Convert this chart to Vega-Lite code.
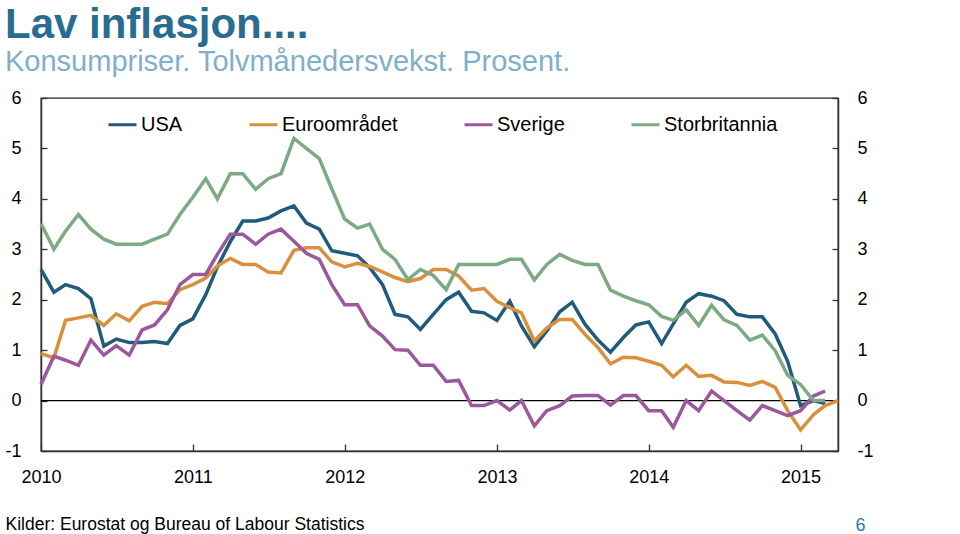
{
  "$schema": "https://vega.github.io/schema/vega-lite/v6.json",
  "width": 797,
  "height": 353,
  "autosize": "none",
  "padding": {"left": 41, "top": 98, "right": 122, "bottom": 83},
  "background": "white",
  "config": {
    "font": "Liberation Sans",
    "view": {"stroke": "#222222", "strokeWidth": 1.3},
    "axis": {"grid": false, "domainColor": "#333333", "domainWidth": 1.5, "tickColor": "#333333", "tickWidth": 1.3, "labelColor": "#000000", "labelFont": "Liberation Sans"}
  },
  "title": {
    "text": "Lav inflasjon....",
    "subtitle": "Konsumpriser. Tolvmånedersvekst. Prosent.",
    "anchor": "start",
    "frame": "group",
    "dx": -36,
    "offset": 11,
    "font": "Liberation Sans",
    "fontSize": 42,
    "fontWeight": "bold",
    "color": "#2A6C90",
    "subtitleFont": "Liberation Sans",
    "subtitleFontSize": 29,
    "subtitleColor": "#7EB0CA",
    "subtitlePadding": 1
  },
  "data": {
    "values": [
      {"maaned":"2010-01","serie":"USA","verdi":2.6},{"maaned":"2010-02","serie":"USA","verdi":2.15},{"maaned":"2010-03","serie":"USA","verdi":2.3},{"maaned":"2010-04","serie":"USA","verdi":2.22},{"maaned":"2010-05","serie":"USA","verdi":2.02},{"maaned":"2010-06","serie":"USA","verdi":1.08},{"maaned":"2010-07","serie":"USA","verdi":1.22},{"maaned":"2010-08","serie":"USA","verdi":1.15},{"maaned":"2010-09","serie":"USA","verdi":1.15},{"maaned":"2010-10","serie":"USA","verdi":1.17},{"maaned":"2010-11","serie":"USA","verdi":1.13},{"maaned":"2010-12","serie":"USA","verdi":1.49},
      {"maaned":"2011-01","serie":"USA","verdi":1.62},{"maaned":"2011-02","serie":"USA","verdi":2.1},{"maaned":"2011-03","serie":"USA","verdi":2.65},{"maaned":"2011-04","serie":"USA","verdi":3.15},{"maaned":"2011-05","serie":"USA","verdi":3.56},{"maaned":"2011-06","serie":"USA","verdi":3.56},{"maaned":"2011-07","serie":"USA","verdi":3.62},{"maaned":"2011-08","serie":"USA","verdi":3.76},{"maaned":"2011-09","serie":"USA","verdi":3.86},{"maaned":"2011-10","serie":"USA","verdi":3.52},{"maaned":"2011-11","serie":"USA","verdi":3.4},{"maaned":"2011-12","serie":"USA","verdi":2.97},
      {"maaned":"2012-01","serie":"USA","verdi":2.92},{"maaned":"2012-02","serie":"USA","verdi":2.87},{"maaned":"2012-03","serie":"USA","verdi":2.64},{"maaned":"2012-04","serie":"USA","verdi":2.3},{"maaned":"2012-05","serie":"USA","verdi":1.71},{"maaned":"2012-06","serie":"USA","verdi":1.66},{"maaned":"2012-07","serie":"USA","verdi":1.41},{"maaned":"2012-08","serie":"USA","verdi":1.71},{"maaned":"2012-09","serie":"USA","verdi":2.0},{"maaned":"2012-10","serie":"USA","verdi":2.15},{"maaned":"2012-11","serie":"USA","verdi":1.77},{"maaned":"2012-12","serie":"USA","verdi":1.74},
      {"maaned":"2013-01","serie":"USA","verdi":1.59},{"maaned":"2013-02","serie":"USA","verdi":1.97},{"maaned":"2013-03","serie":"USA","verdi":1.48},{"maaned":"2013-04","serie":"USA","verdi":1.07},{"maaned":"2013-05","serie":"USA","verdi":1.38},{"maaned":"2013-06","serie":"USA","verdi":1.76},{"maaned":"2013-07","serie":"USA","verdi":1.95},{"maaned":"2013-08","serie":"USA","verdi":1.51},{"maaned":"2013-09","serie":"USA","verdi":1.2},{"maaned":"2013-10","serie":"USA","verdi":0.96},{"maaned":"2013-11","serie":"USA","verdi":1.25},{"maaned":"2013-12","serie":"USA","verdi":1.5},
      {"maaned":"2014-01","serie":"USA","verdi":1.56},{"maaned":"2014-02","serie":"USA","verdi":1.13},{"maaned":"2014-03","serie":"USA","verdi":1.52},{"maaned":"2014-04","serie":"USA","verdi":1.95},{"maaned":"2014-05","serie":"USA","verdi":2.12},{"maaned":"2014-06","serie":"USA","verdi":2.07},{"maaned":"2014-07","serie":"USA","verdi":1.98},{"maaned":"2014-08","serie":"USA","verdi":1.71},{"maaned":"2014-09","serie":"USA","verdi":1.66},{"maaned":"2014-10","serie":"USA","verdi":1.66},{"maaned":"2014-11","serie":"USA","verdi":1.32},{"maaned":"2014-12","serie":"USA","verdi":0.78},
      {"maaned":"2015-01","serie":"USA","verdi":-0.1},{"maaned":"2015-02","serie":"USA","verdi":0.0},{"maaned":"2015-03","serie":"USA","verdi":-0.06},

      {"maaned":"2010-01","serie":"Euroområdet","verdi":0.93},{"maaned":"2010-02","serie":"Euroområdet","verdi":0.85},{"maaned":"2010-03","serie":"Euroområdet","verdi":1.59},{"maaned":"2010-04","serie":"Euroområdet","verdi":1.64},{"maaned":"2010-05","serie":"Euroområdet","verdi":1.69},{"maaned":"2010-06","serie":"Euroområdet","verdi":1.49},{"maaned":"2010-07","serie":"Euroområdet","verdi":1.72},{"maaned":"2010-08","serie":"Euroområdet","verdi":1.58},{"maaned":"2010-09","serie":"Euroområdet","verdi":1.87},{"maaned":"2010-10","serie":"Euroområdet","verdi":1.95},{"maaned":"2010-11","serie":"Euroområdet","verdi":1.92},{"maaned":"2010-12","serie":"Euroområdet","verdi":2.2},
      {"maaned":"2011-01","serie":"Euroområdet","verdi":2.3},{"maaned":"2011-02","serie":"Euroområdet","verdi":2.43},{"maaned":"2011-03","serie":"Euroområdet","verdi":2.67},{"maaned":"2011-04","serie":"Euroområdet","verdi":2.82},{"maaned":"2011-05","serie":"Euroområdet","verdi":2.7},{"maaned":"2011-06","serie":"Euroområdet","verdi":2.7},{"maaned":"2011-07","serie":"Euroområdet","verdi":2.55},{"maaned":"2011-08","serie":"Euroområdet","verdi":2.53},{"maaned":"2011-09","serie":"Euroområdet","verdi":2.98},{"maaned":"2011-10","serie":"Euroområdet","verdi":3.03},{"maaned":"2011-11","serie":"Euroområdet","verdi":3.03},{"maaned":"2011-12","serie":"Euroområdet","verdi":2.75},
      {"maaned":"2012-01","serie":"Euroområdet","verdi":2.65},{"maaned":"2012-02","serie":"Euroområdet","verdi":2.72},{"maaned":"2012-03","serie":"Euroområdet","verdi":2.66},{"maaned":"2012-04","serie":"Euroområdet","verdi":2.55},{"maaned":"2012-05","serie":"Euroområdet","verdi":2.44},{"maaned":"2012-06","serie":"Euroområdet","verdi":2.36},{"maaned":"2012-07","serie":"Euroområdet","verdi":2.42},{"maaned":"2012-08","serie":"Euroområdet","verdi":2.6},{"maaned":"2012-09","serie":"Euroområdet","verdi":2.6},{"maaned":"2012-10","serie":"Euroområdet","verdi":2.47},{"maaned":"2012-11","serie":"Euroområdet","verdi":2.19},{"maaned":"2012-12","serie":"Euroområdet","verdi":2.22},
      {"maaned":"2013-01","serie":"Euroområdet","verdi":1.97},{"maaned":"2013-02","serie":"Euroområdet","verdi":1.84},{"maaned":"2013-03","serie":"Euroområdet","verdi":1.74},{"maaned":"2013-04","serie":"Euroområdet","verdi":1.18},{"maaned":"2013-05","serie":"Euroområdet","verdi":1.44},{"maaned":"2013-06","serie":"Euroområdet","verdi":1.61},{"maaned":"2013-07","serie":"Euroområdet","verdi":1.61},{"maaned":"2013-08","serie":"Euroområdet","verdi":1.31},{"maaned":"2013-09","serie":"Euroområdet","verdi":1.05},{"maaned":"2013-10","serie":"Euroområdet","verdi":0.73},{"maaned":"2013-11","serie":"Euroområdet","verdi":0.86},{"maaned":"2013-12","serie":"Euroområdet","verdi":0.85},
      {"maaned":"2014-01","serie":"Euroområdet","verdi":0.78},{"maaned":"2014-02","serie":"Euroområdet","verdi":0.7},{"maaned":"2014-03","serie":"Euroområdet","verdi":0.47},{"maaned":"2014-04","serie":"Euroområdet","verdi":0.7},{"maaned":"2014-05","serie":"Euroområdet","verdi":0.48},{"maaned":"2014-06","serie":"Euroområdet","verdi":0.5},{"maaned":"2014-07","serie":"Euroområdet","verdi":0.37},{"maaned":"2014-08","serie":"Euroområdet","verdi":0.36},{"maaned":"2014-09","serie":"Euroområdet","verdi":0.3},{"maaned":"2014-10","serie":"Euroområdet","verdi":0.38},{"maaned":"2014-11","serie":"Euroområdet","verdi":0.26},{"maaned":"2014-12","serie":"Euroområdet","verdi":-0.2},
      {"maaned":"2015-01","serie":"Euroområdet","verdi":-0.58},{"maaned":"2015-02","serie":"Euroområdet","verdi":-0.28},{"maaned":"2015-03","serie":"Euroområdet","verdi":-0.1},{"maaned":"2015-04","serie":"Euroområdet","verdi":0.0},

      {"maaned":"2010-01","serie":"Sverige","verdi":0.32},{"maaned":"2010-02","serie":"Sverige","verdi":0.88},{"maaned":"2010-03","serie":"Sverige","verdi":0.8},{"maaned":"2010-04","serie":"Sverige","verdi":0.7},{"maaned":"2010-05","serie":"Sverige","verdi":1.2},{"maaned":"2010-06","serie":"Sverige","verdi":0.9},{"maaned":"2010-07","serie":"Sverige","verdi":1.09},{"maaned":"2010-08","serie":"Sverige","verdi":0.9},{"maaned":"2010-09","serie":"Sverige","verdi":1.4},{"maaned":"2010-10","serie":"Sverige","verdi":1.5},{"maaned":"2010-11","serie":"Sverige","verdi":1.8},{"maaned":"2010-12","serie":"Sverige","verdi":2.3},
      {"maaned":"2011-01","serie":"Sverige","verdi":2.5},{"maaned":"2011-02","serie":"Sverige","verdi":2.5},{"maaned":"2011-03","serie":"Sverige","verdi":2.9},{"maaned":"2011-04","serie":"Sverige","verdi":3.3},{"maaned":"2011-05","serie":"Sverige","verdi":3.3},{"maaned":"2011-06","serie":"Sverige","verdi":3.1},{"maaned":"2011-07","serie":"Sverige","verdi":3.3},{"maaned":"2011-08","serie":"Sverige","verdi":3.4},{"maaned":"2011-09","serie":"Sverige","verdi":3.16},{"maaned":"2011-10","serie":"Sverige","verdi":2.92},{"maaned":"2011-11","serie":"Sverige","verdi":2.8},{"maaned":"2011-12","serie":"Sverige","verdi":2.3},
      {"maaned":"2012-01","serie":"Sverige","verdi":1.9},{"maaned":"2012-02","serie":"Sverige","verdi":1.9},{"maaned":"2012-03","serie":"Sverige","verdi":1.48},{"maaned":"2012-04","serie":"Sverige","verdi":1.28},{"maaned":"2012-05","serie":"Sverige","verdi":1.01},{"maaned":"2012-06","serie":"Sverige","verdi":1.0},{"maaned":"2012-07","serie":"Sverige","verdi":0.7},{"maaned":"2012-08","serie":"Sverige","verdi":0.7},{"maaned":"2012-09","serie":"Sverige","verdi":0.38},{"maaned":"2012-10","serie":"Sverige","verdi":0.4},{"maaned":"2012-11","serie":"Sverige","verdi":-0.1},{"maaned":"2012-12","serie":"Sverige","verdi":-0.1},
      {"maaned":"2013-01","serie":"Sverige","verdi":0.0},{"maaned":"2013-02","serie":"Sverige","verdi":-0.19},{"maaned":"2013-03","serie":"Sverige","verdi":0.0},{"maaned":"2013-04","serie":"Sverige","verdi":-0.5},{"maaned":"2013-05","serie":"Sverige","verdi":-0.2},{"maaned":"2013-06","serie":"Sverige","verdi":-0.1},{"maaned":"2013-07","serie":"Sverige","verdi":0.09},{"maaned":"2013-08","serie":"Sverige","verdi":0.1},{"maaned":"2013-09","serie":"Sverige","verdi":0.1},{"maaned":"2013-10","serie":"Sverige","verdi":-0.09},{"maaned":"2013-11","serie":"Sverige","verdi":0.1},{"maaned":"2013-12","serie":"Sverige","verdi":0.1},
      {"maaned":"2014-01","serie":"Sverige","verdi":-0.2},{"maaned":"2014-02","serie":"Sverige","verdi":-0.2},{"maaned":"2014-03","serie":"Sverige","verdi":-0.53},{"maaned":"2014-04","serie":"Sverige","verdi":0.0},{"maaned":"2014-05","serie":"Sverige","verdi":-0.2},{"maaned":"2014-06","serie":"Sverige","verdi":0.19},{"maaned":"2014-07","serie":"Sverige","verdi":0.0},{"maaned":"2014-08","serie":"Sverige","verdi":-0.2},{"maaned":"2014-09","serie":"Sverige","verdi":-0.39},{"maaned":"2014-10","serie":"Sverige","verdi":-0.1},{"maaned":"2014-11","serie":"Sverige","verdi":-0.2},{"maaned":"2014-12","serie":"Sverige","verdi":-0.3},
      {"maaned":"2015-01","serie":"Sverige","verdi":-0.2},{"maaned":"2015-02","serie":"Sverige","verdi":0.09},{"maaned":"2015-03","serie":"Sverige","verdi":0.19},

      {"maaned":"2010-01","serie":"Storbritannia","verdi":3.51},{"maaned":"2010-02","serie":"Storbritannia","verdi":3.0},{"maaned":"2010-03","serie":"Storbritannia","verdi":3.36},{"maaned":"2010-04","serie":"Storbritannia","verdi":3.69},{"maaned":"2010-05","serie":"Storbritannia","verdi":3.4},{"maaned":"2010-06","serie":"Storbritannia","verdi":3.2},{"maaned":"2010-07","serie":"Storbritannia","verdi":3.1},{"maaned":"2010-08","serie":"Storbritannia","verdi":3.1},{"maaned":"2010-09","serie":"Storbritannia","verdi":3.1},{"maaned":"2010-10","serie":"Storbritannia","verdi":3.2},{"maaned":"2010-11","serie":"Storbritannia","verdi":3.3},{"maaned":"2010-12","serie":"Storbritannia","verdi":3.69},
      {"maaned":"2011-01","serie":"Storbritannia","verdi":4.03},{"maaned":"2011-02","serie":"Storbritannia","verdi":4.4},{"maaned":"2011-03","serie":"Storbritannia","verdi":4.0},{"maaned":"2011-04","serie":"Storbritannia","verdi":4.5},{"maaned":"2011-05","serie":"Storbritannia","verdi":4.5},{"maaned":"2011-06","serie":"Storbritannia","verdi":4.19},{"maaned":"2011-07","serie":"Storbritannia","verdi":4.4},{"maaned":"2011-08","serie":"Storbritannia","verdi":4.5},{"maaned":"2011-09","serie":"Storbritannia","verdi":5.2},{"maaned":"2011-10","serie":"Storbritannia","verdi":5.0},{"maaned":"2011-11","serie":"Storbritannia","verdi":4.8},{"maaned":"2011-12","serie":"Storbritannia","verdi":4.2},
      {"maaned":"2012-01","serie":"Storbritannia","verdi":3.6},{"maaned":"2012-02","serie":"Storbritannia","verdi":3.42},{"maaned":"2012-03","serie":"Storbritannia","verdi":3.5},{"maaned":"2012-04","serie":"Storbritannia","verdi":3.0},{"maaned":"2012-05","serie":"Storbritannia","verdi":2.8},{"maaned":"2012-06","serie":"Storbritannia","verdi":2.4},{"maaned":"2012-07","serie":"Storbritannia","verdi":2.6},{"maaned":"2012-08","serie":"Storbritannia","verdi":2.48},{"maaned":"2012-09","serie":"Storbritannia","verdi":2.2},{"maaned":"2012-10","serie":"Storbritannia","verdi":2.7},{"maaned":"2012-11","serie":"Storbritannia","verdi":2.7},{"maaned":"2012-12","serie":"Storbritannia","verdi":2.7},
      {"maaned":"2013-01","serie":"Storbritannia","verdi":2.7},{"maaned":"2013-02","serie":"Storbritannia","verdi":2.8},{"maaned":"2013-03","serie":"Storbritannia","verdi":2.8},{"maaned":"2013-04","serie":"Storbritannia","verdi":2.39},{"maaned":"2013-05","serie":"Storbritannia","verdi":2.7},{"maaned":"2013-06","serie":"Storbritannia","verdi":2.9},{"maaned":"2013-07","serie":"Storbritannia","verdi":2.78},{"maaned":"2013-08","serie":"Storbritannia","verdi":2.7},{"maaned":"2013-09","serie":"Storbritannia","verdi":2.7},{"maaned":"2013-10","serie":"Storbritannia","verdi":2.19},{"maaned":"2013-11","serie":"Storbritannia","verdi":2.07},{"maaned":"2013-12","serie":"Storbritannia","verdi":1.98},
      {"maaned":"2014-01","serie":"Storbritannia","verdi":1.9},{"maaned":"2014-02","serie":"Storbritannia","verdi":1.67},{"maaned":"2014-03","serie":"Storbritannia","verdi":1.59},{"maaned":"2014-04","serie":"Storbritannia","verdi":1.8},{"maaned":"2014-05","serie":"Storbritannia","verdi":1.49},{"maaned":"2014-06","serie":"Storbritannia","verdi":1.89},{"maaned":"2014-07","serie":"Storbritannia","verdi":1.6},{"maaned":"2014-08","serie":"Storbritannia","verdi":1.49},{"maaned":"2014-09","serie":"Storbritannia","verdi":1.2},{"maaned":"2014-10","serie":"Storbritannia","verdi":1.3},{"maaned":"2014-11","serie":"Storbritannia","verdi":0.99},{"maaned":"2014-12","serie":"Storbritannia","verdi":0.5},
      {"maaned":"2015-01","serie":"Storbritannia","verdi":0.32},{"maaned":"2015-02","serie":"Storbritannia","verdi":0.0},{"maaned":"2015-03","serie":"Storbritannia","verdi":0.0}
    ]
  },
  "layer": [
    {
      "data": {"values": [{"nullinje": 0}]},
      "mark": {"type": "rule", "color": "#000000", "strokeWidth": 1.2},
      "encoding": {
        "y": {
          "field": "nullinje",
          "type": "quantitative",
          "scale": {"domain": [-1, 6], "nice": false, "zero": false},
          "axis": {
            "orient": "right",
            "values": [-1, 0, 1, 2, 3, 4, 5, 6],
            "labelExpr": "'' + datum.value",
            "labelFontSize": 18,
            "labelAlign": "left",
            "labelPadding": 25,
            "tickSize": -6,
            "domain": true,
            "title": "6",
            "titleAngle": 0,
            "titleX": 22,
            "titleY": 432,
            "titleAlign": "center",
            "titleBaseline": "alphabetic",
            "titleFontSize": 18,
            "titleFontWeight": "normal",
            "titleColor": "#2B79B5",
            "titleFont": "Liberation Sans"
          }
        }
      }
    },
    {
      "mark": {"type": "line", "strokeWidth": 3.5, "strokeJoin": "miter", "strokeCap": "butt"},
      "encoding": {
        "x": {
          "field": "maaned",
          "type": "temporal",
          "scale": {"type": "utc", "domain": ["2010-01-01", "2015-04-01"]},
          "axis": {
            "format": "%Y",
            "tickCount": "year",
            "labelFontSize": 18,
            "labelPadding": 24,
            "tickSize": -7,
            "labelFlush": false,
            "title": "Kilder: Eurostat og Bureau of Labour Statistics",
            "titleX": -36,
            "titleY": 78,
            "titleAnchor": "start",
            "titleAlign": "left",
            "titleBaseline": "alphabetic",
            "titleFontSize": 17.5,
            "titleFontWeight": "normal",
            "titleColor": "#000000",
            "titleFont": "Liberation Sans"
          }
        },
        "y": {
          "field": "verdi",
          "type": "quantitative",
          "scale": {"domain": [-1, 6], "nice": false, "zero": false},
          "axis": {
            "orient": "left",
            "values": [-1, 0, 1, 2, 3, 4, 5, 6],
            "labelExpr": "'' + datum.value",
            "labelFontSize": 18,
            "labelPadding": 26,
            "tickSize": -6,
            "title": null
          }
        },
        "color": {
          "field": "serie",
          "type": "nominal",
          "scale": {
            "domain": ["USA", "Euroområdet", "Sverige", "Storbritannia"],
            "range": ["#215B7B", "#D9903D", "#9B589D", "#7DA983"]
          },
          "legend": {
            "title": null,
            "orient": "none",
            "legendX": 66,
            "legendY": 11,
            "direction": "horizontal",
            "symbolType": "stroke",
            "symbolSize": 784,
            "symbolStrokeWidth": 3,
            "labelFontSize": 20,
            "labelFont": "Liberation Sans",
            "labelColor": "#000000",
            "labelOffset": 3,
            "columnPadding": 60
          }
        }
      }
    }
  ],
  "resolve": {"axis": {"y": "independent"}}
}
